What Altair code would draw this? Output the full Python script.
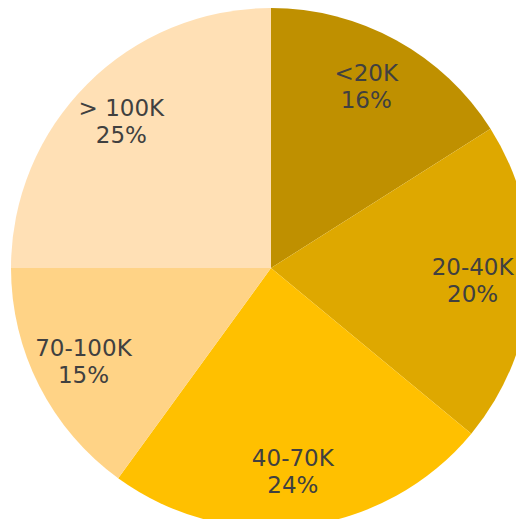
import altair as alt
import pandas as pd

categories = ["<20K", "20-40K", "40-70K", "70-100K", "> 100K"]
shares = [16, 20, 24, 15, 25]
colors = ["#BF9000", "#DEA800", "#FFC000", "#FFD386", "#FFE0B5"]

df = pd.DataFrame({
    "cat": categories,
    "share": shares,
    "order": list(range(len(categories))),
    "label": [f"{c}\n{s}%" for c, s in zip(categories, shares)],
})

base = alt.Chart(df).encode(
    theta=alt.Theta("share:Q", stack=True),
    order=alt.Order("order:Q"),
    x=alt.value(263),
    y=alt.value(260),
)

arcs = base.mark_arc(radius=260, stroke=None).encode(
    color=alt.Color("cat:N", scale=alt.Scale(domain=categories, range=colors), legend=None)
)

text = base.mark_text(
    radius=206, dx=-4, dy=-13, fontSize=23, font="DejaVu Sans", color="#404040",
    lineBreak="\n", lineHeight=27, align="center", baseline="middle"
).encode(text="label:N")

chart = (arcs + text).properties(
    width=508, height=511, padding=0, autosize=alt.AutoSizeParams(type="none")
).configure_view(stroke=None)

chart.save("out.html", embed_options={"renderer": "svg", "actions": False})
